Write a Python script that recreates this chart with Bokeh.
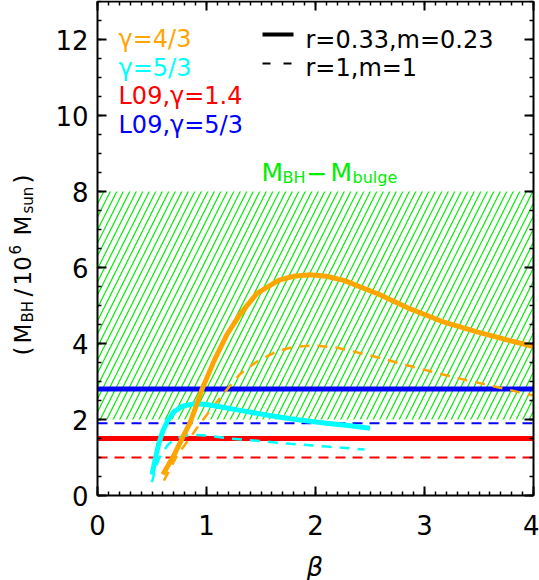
import math
from bokeh.plotting import figure
from bokeh.models import (Range1d, LinearAxis, Label, Arrow,
                          SingleIntervalTicker, CustomLabelingPolicy)
from bokeh.embed import file_html
from bokeh.resources import INLINE

# ---------------- data ----------------
beta_range = [0.0, 4.0]
mass_range = [0.0, 13.0]
bulge_band = [2.0, 8.0]          # M_BH - M_bulge allowed range

# gamma = 4/3, r=0.33, m=0.23 (solid)
beta_g43_a = [0.60, 0.70, 0.78, 0.85, 0.96, 1.07, 1.19, 1.31, 1.46, 1.66,
              1.80, 1.95, 2.10, 2.26, 2.57, 2.87, 3.18, 3.49, 3.75, 4.00]
mbh_g43_a = [0.55, 1.05, 1.52, 1.92, 2.80, 3.55, 4.25, 4.78, 5.31, 5.66,
             5.77, 5.81, 5.77, 5.66, 5.31, 4.91, 4.56, 4.30, 4.10, 3.92]
# gamma = 4/3, r=1, m=1 (dashed)
beta_g43_b = [0.61, 0.72, 0.78, 0.85, 0.94, 1.05, 1.19, 1.31, 1.46, 1.65,
              1.80, 1.98, 2.20, 2.54, 2.90, 3.27, 3.64, 4.00]
mbh_g43_b = [0.39, 1.00, 1.25, 1.52, 1.89, 2.30, 2.80, 3.20, 3.52, 3.80,
             3.91, 3.95, 3.89, 3.66, 3.38, 3.11, 2.87, 2.63]
# gamma = 5/3, r=0.33, m=0.23 (solid)
beta_g53_a = [0.50, 0.53, 0.56, 0.60, 0.64, 0.70, 0.78, 0.88, 0.98, 1.10,
              1.31, 1.55, 1.77, 2.08, 2.30, 2.50]
mbh_g53_a = [0.55, 0.95, 1.35, 1.70, 1.95, 2.20, 2.35, 2.41, 2.40, 2.35,
             2.24, 2.12, 2.02, 1.91, 1.84, 1.77]
# gamma = 5/3, r=1, m=1 (dashed)
beta_g53_b = [0.50, 0.53, 0.56, 0.60, 0.65, 0.72, 0.80, 0.90, 1.00, 1.22,
              1.50, 1.77, 2.10, 2.45]
mbh_g53_b = [0.35, 0.70, 0.95, 1.15, 1.35, 1.50, 1.57, 1.59, 1.58, 1.50,
             1.43, 1.36, 1.29, 1.21]
# L09 constant levels
l09_g14 = [1.5, 1.0]     # solid, dashed
l09_g53 = [2.8, 1.9]     # solid, dashed

legend_left = ["\u03b3=4/3", "\u03b3=5/3", "L09,\u03b3=1.4", "L09,\u03b3=5/3"]
legend_right = ["r=0.33,m=0.23", "r=1,m=1"]

ORANGE = "#ffa500"
CYAN = "#00ffff"
RED = "#ff0000"
BLUE = "#0000ff"
GREEN = "#00ee00"
FONT = "DejaVu Sans"

# ---------------- layout (pixels) ----------------
W, H = 539, 580
BOX_L, BOX_R, BOX_T, BOX_B = 97, 533, 1, 495
px_x = (BOX_R - BOX_L) / (beta_range[1] - beta_range[0])
px_y = (BOX_B - BOX_T) / (mass_range[1] - mass_range[0])
x_rng = Range1d(beta_range[0] - BOX_L / px_x, beta_range[1] + (W - BOX_R) / px_x)
y_rng = Range1d(mass_range[0] - (H - BOX_B) / px_y, mass_range[1] + BOX_T / px_y)

p = figure(width=W, height=H, x_range=x_rng, y_range=y_rng,
           output_backend="svg", toolbar_location=None, min_border=0)
p.grid.visible = False
p.outline_line_color = None
p.background_fill_color = "white"
p.border_fill_color = "white"

# hatched band
p.varea(x=beta_range, y1=[bulge_band[0]] * 2, y2=[bulge_band[1]] * 2,
        fill_alpha=0, hatch_pattern="/", hatch_color=GREEN,
        hatch_scale=13, hatch_weight=1.2)

# L09 levels
p.line(beta_range, [l09_g53[0]] * 2, line_color=BLUE, line_width=5)
p.line(beta_range, [l09_g53[1]] * 2, line_color=BLUE, line_width=2, line_dash="10 7")
p.line(beta_range, [l09_g14[0]] * 2, line_color=RED, line_width=5)
p.line(beta_range, [l09_g14[1]] * 2, line_color=RED, line_width=2, line_dash="10 7")

# model curves
p.line(beta_g53_b, mbh_g53_b, line_color=CYAN, line_width=2.5, line_dash="10 8")
p.line(beta_g43_b, mbh_g43_b, line_color=ORANGE, line_width=2.5, line_dash="10 8")
p.line(beta_g53_a, mbh_g53_a, line_color=CYAN, line_width=5)
p.line(beta_g43_a, mbh_g43_a, line_color=ORANGE, line_width=5)

# ---------------- axes (box with inward ticks) ----------------
def style_axis(ax, labels=True):
    ax.axis_line_width = 2
    ax.axis_line_color = "black"
    ax.major_tick_in = 9
    ax.major_tick_out = 0
    ax.minor_tick_in = 4
    ax.minor_tick_out = 0
    ax.major_tick_line_width = 2
    ax.minor_tick_line_width = 1.5
    ax.major_tick_line_color = "black"
    ax.minor_tick_line_color = "black"
    if labels:
        ax.major_label_text_font = FONT
        ax.major_label_text_font_size = "26px"
        ax.major_label_text_color = "black"
    else:
        ax.major_label_text_font_size = "1px"
        ax.major_label_standoff = 0
        ax.major_label_policy = CustomLabelingPolicy(code="return []")

xt = dict(interval=1, num_minor_ticks=10)
yt = dict(interval=2, num_minor_ticks=4)
p.xaxis.ticker = SingleIntervalTicker(**xt)
p.yaxis.ticker = SingleIntervalTicker(**yt)
style_axis(p.xaxis[0])
style_axis(p.yaxis[0])
p.xaxis.fixed_location = mass_range[0]
p.xaxis.bounds = tuple(beta_range)
p.yaxis.fixed_location = beta_range[0]
p.yaxis.bounds = tuple(mass_range)
p.xaxis.major_label_standoff = 19
p.yaxis.major_label_standoff = 9

top_ax = LinearAxis(ticker=SingleIntervalTicker(**xt),
                    fixed_location=mass_range[1], bounds=tuple(beta_range))
right_ax = LinearAxis(ticker=SingleIntervalTicker(**yt),
                      fixed_location=beta_range[1], bounds=tuple(mass_range))
style_axis(top_ax, labels=False)
style_axis(right_ax, labels=False)
p.add_layout(top_ax, "above")
p.add_layout(right_ax, "right")

# ---------------- texts (positions in page pixels, y from top) ----------------
def lab(text, px, py, color="black", size=24, angle=0.0, style="normal"):
    p.add_layout(Label(x=px, y=H - py, x_units="screen", y_units="screen",
                       text=text, text_color=color, text_font=FONT,
                       text_font_size=f"{size}px", angle=angle,
                       text_align="left", text_baseline="alphabetic",
                       text_font_style=style))

# colored legend texts (top-left)
for txt, col, yy in zip(legend_left, [ORANGE, CYAN, RED, BLUE], [38, 67, 95, 124]):
    lab(txt, 118, yy, col, 24)

# line-style legend (top-right)
p.add_layout(Arrow(end=None, x_start=262, y_start=H - 34, x_end=293, y_end=H - 34,
                   start_units="screen", end_units="screen",
                   line_color="black", line_width=4))
p.add_layout(Arrow(end=None, x_start=262, y_start=H - 63, x_end=293, y_end=H - 63,
                   start_units="screen", end_units="screen",
                   line_color="black", line_width=2, line_dash="8 13"))
lab(legend_right[0], 305, 39, "black", 24)
lab(legend_right[1], 305, 67, "black", 24)

# M_BH - M_bulge
lab("M", 261, 172, GREEN, 25)
lab("BH", 282, 177, GREEN, 16)
lab("\u2212", 306, 172, GREEN, 25)
lab("M", 330, 172, GREEN, 25)
lab("bulge", 352, 177, GREEN, 16)

# y-axis label (rotated, reads bottom to top)
A = math.pi / 2
lab("(", 22, 355, "black", 23, A)
lab("M", 22, 343, "black", 23, A)
lab("BH", 27, 322, "black", 15, A)
lab("/", 22, 296, "black", 23, A)
lab("10", 22, 285, "black", 23, A)
lab("6", 14, 254, "black", 15, A)
lab("M", 22, 235, "black", 23, A)
lab("sun", 27, 213, "black", 15, A)
lab(")", 22, 183, "black", 23, A)

# x-axis label
lab("\u03b2", 306, 566, "black", 26, 0.0, "italic")

open("out.html", "w").write(file_html(p, INLINE))
